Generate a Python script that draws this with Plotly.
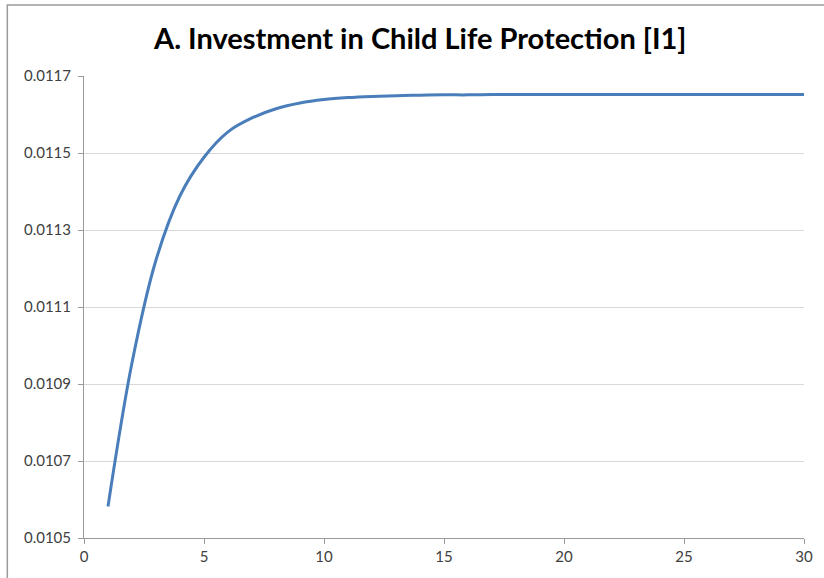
import plotly.graph_objects as go

# Data
years = list(range(1, 31))
investment = [
    0.010582, 0.010955, 0.011222, 0.011389, 0.011489, 0.011555, 0.011591,
    0.011615, 0.011630, 0.011639, 0.011644, 0.011647, 0.011649, 0.011650,
    0.011651, 0.011651, 0.011652, 0.011652, 0.011652, 0.011652, 0.011652,
    0.011652, 0.011652, 0.011652, 0.011652, 0.011652, 0.011652, 0.011652,
    0.011652, 0.011652,
]
title_text = "A. Investment in Child Life Protection [I1]"
x_ticks = [0, 5, 10, 15, 20, 25, 30]
y_ticks = [0.0105, 0.0107, 0.0109, 0.0111, 0.0113, 0.0115, 0.0117]

fig = go.Figure()
fig.add_trace(go.Scatter(
    x=years, y=investment, mode="lines",
    line=dict(color="#4a7ebb", width=3, shape="spline", smoothing=1.0),
    showlegend=False, hoverinfo="x+y",
))

font_family = "Lato, 'Open Sans', sans-serif"

fig.update_layout(
    width=824, height=578,
    margin=dict(l=84, r=20, t=76, b=40),
    paper_bgcolor="white", plot_bgcolor="white",
    title=dict(text="<b>" + title_text + "</b>", x=0.51, xref="container",
               xanchor="center", y=0.933, yanchor="middle",
               font=dict(family=font_family, size=29, color="#000000")),
    font=dict(family=font_family, size=15, color="#404040"),
)

fig.update_xaxes(
    range=[0, 30], tickvals=x_ticks, ticktext=[str(v) for v in x_ticks],
    showgrid=False, zeroline=False,
    showline=True, linecolor="#9a9a9a", linewidth=1,
    ticks="outside", ticklen=5, tickcolor="#9a9a9a",
    tickfont=dict(family=font_family, size=15, color="#404040"),
)
fig.update_yaxes(
    range=[0.0105, 0.0117], tickvals=y_ticks,
    ticktext=[f"{v:.4f}" for v in y_ticks],
    showgrid=True, gridcolor="#d9d9d9", gridwidth=1, zeroline=False,
    showline=True, linecolor="#9a9a9a", linewidth=1,
    ticks="outside", ticklen=5, tickcolor="#9a9a9a",
    ticklabelstandoff=4,
    tickfont=dict(family=font_family, size=15, color="#404040"),
)

# outer frame (left and top edges visible in reference)
fig.add_shape(type="rect", xref="paper", yref="paper",
              x0=-0.1065, x1=1.2, y0=-0.3, y1=1.1535,
              line=dict(color="#9a9a9a", width=1.5), fillcolor="rgba(0,0,0,0)",
              layer="above")

fig.write_html("out.html",
               config={"displayModeBar": False},
               post_script="document.body.style.margin='0';document.body.style.overflow='hidden';")
